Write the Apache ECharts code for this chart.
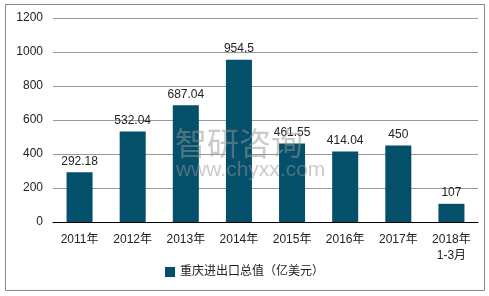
<!DOCTYPE html>
<html><head><meta charset="utf-8">
<script src="https://cdn.jsdelivr.net/npm/echarts@6/dist/echarts.min.js"></script>
<style>html,body{margin:0;padding:0;background:#fff}#c{width:489px;height:296px}</style>
</head><body><div id="c"></div>
<script>
var categories = ['2011年','2012年','2013年','2014年','2015年','2016年','2017年','2018年\n1-3月'];
var values = [292.18, 532.04, 687.04, 954.5, 461.55, 414.04, 450, 107];
var seriesName = '重庆进出口总值（亿美元）';
var yTicks = [0, 200, 400, 600, 800, 1000, 1200];

var chart = echarts.init(document.getElementById('c'));
var font = 'Arial, "Liberation Sans", "Noto Sans CJK SC", sans-serif';
chart.setOption({
  animation: false,
  textStyle: {fontFamily: font},
  graphic: [
    {type:'rect', shape:{x:5.5,y:4.5,width:479,height:286}, style:{fill:'none', stroke:'#888', lineWidth:1}, z:-1},
    {type:'text', left:175, top:127, style:{text:'智研咨询', fill:'rgba(150,150,150,0.5)', font:'32px "Noto Sans CJK SC"'}, z:10},
    {type:'text', left:176, top:160, style:{text:'www.chyxx.com', fill:'rgba(150,150,150,0.5)', font:'21px "Liberation Sans"'}, z:10}
  ],
  grid: {left: 53, right: 11, top: 18, bottom: 74},
  legend: {
    bottom: 13, left: 'center',
    itemWidth: 10, itemHeight: 10, icon: 'rect',
    textStyle: {fontSize: 12, color: '#222', fontFamily: font},
    data: [seriesName]
  },
  xAxis: {
    type: 'category', data: categories,
    axisLine: {lineStyle: {color: '#000'}},
    axisTick: {show: false},
    axisLabel: {color: '#222', fontSize: 12, margin: 10, lineHeight: 16, interval: 0}
  },
  yAxis: {
    type: 'value', min: yTicks[0], max: yTicks[yTicks.length-1], interval: 200,
    axisLine: {show: false}, axisTick: {show: false},
    axisLabel: {color: '#222', fontSize: 12, margin: 10, formatter: function(v){return String(v);}},
    splitLine: {lineStyle: {color: '#999'}}
  },
  series: [{
    name: seriesName, type: 'bar', data: values, barWidth: '49%',
    itemStyle: {color: '#04506b'},
    label: {show: true, position: 'top', color: '#222', fontSize: 12, distance: 5}
  }]
});
</script></body></html>
